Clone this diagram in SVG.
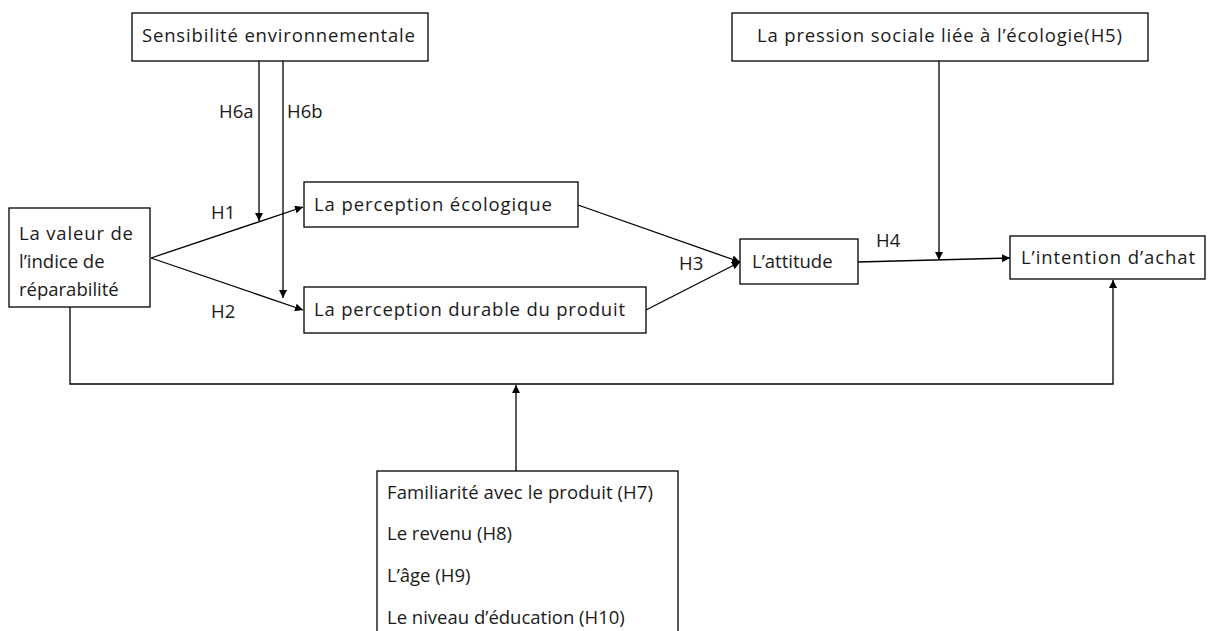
<svg xmlns="http://www.w3.org/2000/svg" width="1211" height="631" viewBox="0 0 1211 631">
<style>
.box{fill:#fff;stroke:#000;stroke-width:1.3}
.t{font-family:"Open Sans","Liberation Sans",sans-serif;font-size:18.5px;fill:#1a1a1a}
.c{fill:none;stroke:#000;stroke-width:1.3}
</style>
<defs>
<marker id="ah" viewBox="0 0 10 10" refX="10" refY="5" markerWidth="8" markerHeight="8" markerUnits="userSpaceOnUse" orient="auto">
<path d="M0,0 L10,5 L0,10 z" fill="#000"/>
</marker>
</defs>
<rect width="1211" height="631" fill="#fff"/>
<g id="connectors">
<path class="c" d="M259,61 V221" marker-end="url(#ah)"/>
<path class="c" d="M283,61 V298" marker-end="url(#ah)"/>
<path class="c" d="M151,258 L303,207" marker-end="url(#ah)"/>
<path class="c" d="M151,258 L303,310" marker-end="url(#ah)"/>
<path class="c" d="M578,205 L740,262" marker-end="url(#ah)"/>
<path class="c" d="M646,310 L740,262" marker-end="url(#ah)"/>
<path class="c" d="M858,262 L1010,258" marker-end="url(#ah)"/>
<path class="c" d="M939,61 V260" marker-end="url(#ah)"/>
<path class="c" d="M70,307 V384 H1113 V280" marker-end="url(#ah)"/>
<path class="c" d="M516,471 V385" marker-end="url(#ah)"/>
<text class="t" x="219" y="118">H6a</text>
<text class="t" x="287" y="118">H6b</text>
<text class="t" x="211" y="219">H1</text>
<text class="t" x="211" y="318">H2</text>
<text class="t" x="679" y="270">H3</text>
<text class="t" x="876" y="247">H4</text>
</g>
<g id="n-sensibilite">
<rect class="box" x="132" y="13" width="296" height="48"/>
<text class="t" x="142" y="42" textLength="273">Sensibilité environnementale</text>
</g>
<g id="n-pression">
<rect class="box" x="732" y="13" width="416" height="48"/>
<text class="t" x="757" y="42" textLength="365">La pression sociale liée à l’écologie(H5)</text>
</g>
<g id="n-valeur">
<rect class="box" x="9" y="208" width="141" height="99"/>
<text class="t" x="19" y="240" textLength="114">La valeur de</text>
<text class="t" x="19" y="268">l’indice de</text>
<text class="t" x="19" y="296">réparabilité</text>
</g>
<g id="n-ecologique">
<rect class="box" x="304" y="182" width="274" height="45"/>
<text class="t" x="314" y="211" textLength="238">La perception écologique</text>
</g>
<g id="n-durable">
<rect class="box" x="304" y="287" width="342" height="46"/>
<text class="t" x="314" y="316" textLength="311">La perception durable du produit</text>
</g>
<g id="n-attitude">
<rect class="box" x="740" y="239" width="118" height="45"/>
<text class="t" x="752" y="268">L’attitude</text>
</g>
<g id="n-intention">
<rect class="box" x="1010" y="236" width="195" height="43"/>
<text class="t" x="1021" y="264" textLength="174">L’intention d’achat</text>
</g>
<g id="n-controles">
<rect class="box" x="377" y="471" width="301" height="170"/>
<text class="t" x="387" y="499" textLength="266">Familiarité avec le produit (H7)</text>
<text class="t" x="387" y="540">Le revenu (H8)</text>
<text class="t" x="387" y="582">L’âge (H9)</text>
<text class="t" x="387" y="624">Le niveau d’éducation (H10)</text>
</g>
</svg>
